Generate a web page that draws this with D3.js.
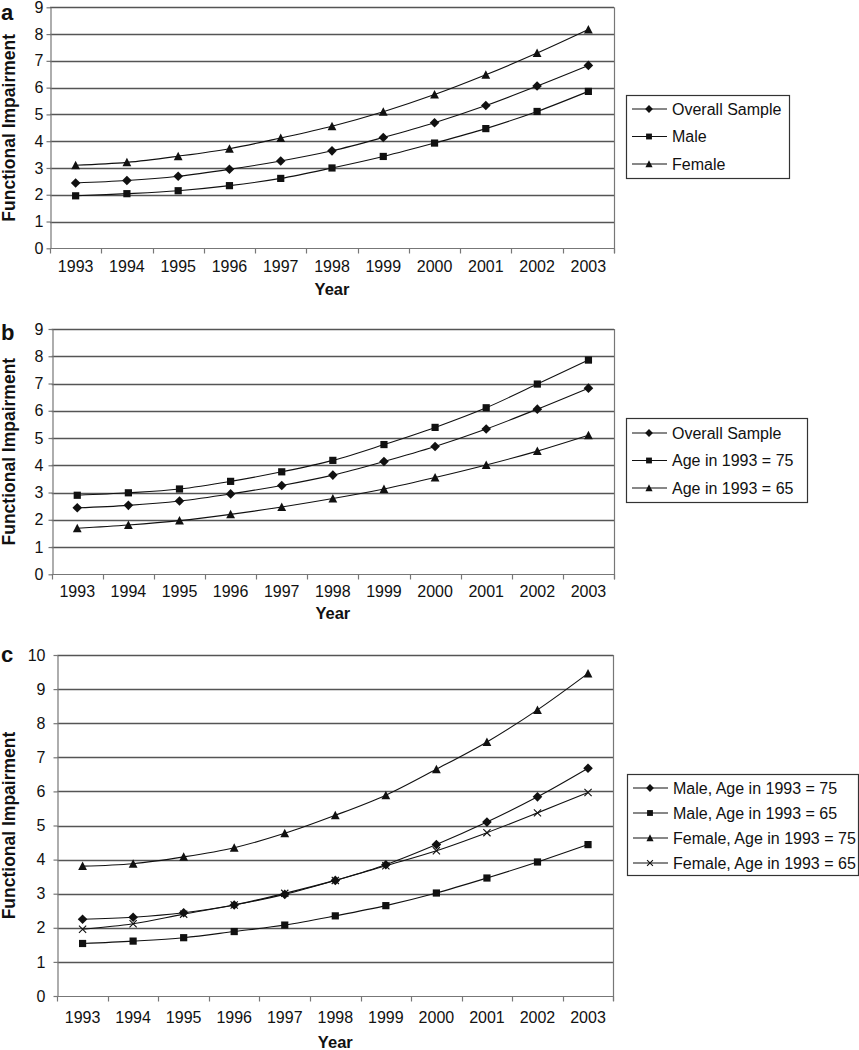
<!DOCTYPE html>
<html>
<head>
<meta charset="utf-8">
<script src="https://cdn.jsdelivr.net/npm/d3@7"></script>
<style>
  body { margin: 0; background: #fff; }
  svg { display: block; font-family: "Liberation Sans", Arial, sans-serif; }
</style>
</head>
<body>
<svg id="chart" width="859" height="1050"></svg>
<script>
// ---------- DATA ----------
const years = ["1993","1994","1995","1996","1997","1998","1999","2000","2001","2002","2003"];

// Panel a
const overallSample = [2.44, 2.53, 2.69, 2.95, 3.26, 3.64, 4.14, 4.69, 5.33, 6.06, 6.83];
const male          = [1.96, 2.04, 2.15, 2.34, 2.61, 3.00, 3.43, 3.93, 4.47, 5.11, 5.86];
const female        = [3.10, 3.21, 3.44, 3.72, 4.12, 4.56, 5.10, 5.74, 6.48, 7.29, 8.17];

// Panel b
const age75 = [2.90, 2.99, 3.13, 3.41, 3.76, 4.18, 4.76, 5.39, 6.11, 6.98, 7.86];
const age65 = [1.69, 1.81, 1.97, 2.20, 2.47, 2.78, 3.13, 3.55, 4.01, 4.52, 5.10];

// Panel c
const maleAge75   = [2.25, 2.31, 2.44, 2.67, 2.98, 3.39, 3.85, 4.44, 5.10, 5.84, 6.68];
const maleAge65   = [1.54, 1.61, 1.71, 1.89, 2.08, 2.35, 2.65, 3.02, 3.46, 3.93, 4.44];
const femaleAge75 = [3.81, 3.88, 4.08, 4.35, 4.77, 5.30, 5.89, 6.65, 7.45, 8.39, 9.46];
const femaleAge65 = [1.96, 2.12, 2.40, 2.67, 3.01, 3.39, 3.82, 4.26, 4.79, 5.37, 5.97];

const yTicksAB = [0,1,2,3,4,5,6,7,8,9];
const yTicksC  = [0,1,2,3,4,5,6,7,8,9,10];

const panels = [
  { label: "a", ymax: 9, yTicks: yTicksAB,
    box: {l: 50, r: 614, t: 7.3, b: 248.3}, tickLabelGap: 7, xLabelY: 272, yearY: 295, labelY: 20,
    legend: {x: 626, y: 95, w: 163, h: 83, row0: 14, rowH: 27.5},
    series: [
      {name: "Overall Sample", values: overallSample, marker: "diamond"},
      {name: "Male", values: male, marker: "square"},
      {name: "Female", values: female, marker: "triangle"} ] },
  { label: "b", ymax: 9, yTicks: yTicksAB,
    box: {l: 51.7, r: 614, t: 329, b: 574.3}, tickLabelGap: 9, xLabelY: 597, yearY: 619, labelY: 340,
    legend: {x: 626, y: 418, w: 181, h: 84, row0: 15, rowH: 27.5},
    series: [
      {name: "Overall Sample", values: overallSample, marker: "diamond"},
      {name: "Age in 1993 = 75", values: age75, marker: "square"},
      {name: "Age in 1993 = 65", values: age65, marker: "triangle"} ] },
  { label: "c", ymax: 10, yTicks: yTicksC,
    box: {l: 57.3, r: 613.3, t: 655, b: 996}, tickLabelGap: 12, xLabelY: 1023, yearY: 1048, labelY: 662,
    legend: {x: 627, y: 774, w: 231, h: 101, row0: 14, rowH: 25},
    series: [
      {name: "Male, Age in 1993 = 75", values: maleAge75, marker: "diamond"},
      {name: "Male, Age in 1993 = 65", values: maleAge65, marker: "square"},
      {name: "Female, Age in 1993 = 75", values: femaleAge75, marker: "triangle"},
      {name: "Female, Age in 1993 = 65", values: femaleAge65, marker: "x"} ] }
];

// ---------- MARKERS ----------
function markerPath(type, s) {
  const p = d3.path();
  if (type === "diamond") {
    const r = s * 0.6;
    p.moveTo(0, -r); p.lineTo(r, 0); p.lineTo(0, r); p.lineTo(-r, 0); p.closePath();
  } else if (type === "square") {
    const h = s * 0.45;
    p.rect(-h, -h, 2 * h, 2 * h);
  } else if (type === "triangle") {
    const w = s * 0.55, h = s * 0.5;
    p.moveTo(0, -h - 0.5); p.lineTo(w, h); p.lineTo(-w, h); p.closePath();
  } else if (type === "x") {
    const h = s * 0.45;
    p.moveTo(-h, -h); p.lineTo(h, h); p.moveTo(h, -h); p.lineTo(-h, h);
  }
  return p.toString();
}
function drawMarker(g, type, s) {
  const path = g.append("path").attr("d", markerPath(type, s));
  if (type === "x") path.attr("fill", "none").attr("stroke", "#111").attr("stroke-width", 1.1);
  else path.attr("fill", "#111").attr("stroke", "none");
}

// ---------- DRAW ----------
const svg = d3.select("#chart");
const gridColor = "#555";

panels.forEach(P => {
  const g = svg.append("g");
  const x = d3.scaleBand().domain(years).range([P.box.l, P.box.r]);
  const y = d3.scaleLinear().domain([0, P.ymax]).range([P.box.b, P.box.t]);

  // gridlines
  g.selectAll("line.grid").data(P.yTicks.filter(t => t > 0)).join("line")
    .attr("x1", P.box.l).attr("x2", P.box.r)
    .attr("y1", d => Math.round(y(d)) + 0.5).attr("y2", d => Math.round(y(d)) + 0.5)
    .attr("stroke", gridColor).attr("stroke-width", 1.3);

  // right border
  g.append("line").attr("x1", Math.round(P.box.r) + 0.5).attr("x2", Math.round(P.box.r) + 0.5)
    .attr("y1", y(P.ymax)).attr("y2", y(0) + 5).attr("stroke", "#777").attr("stroke-width", 1.2);

  // y axis
  const yAxis = d3.axisLeft(y).tickValues(P.yTicks).tickSize(4).tickPadding(P.tickLabelGap - 4).tickSizeOuter(0);
  const ya = g.append("g").attr("transform", `translate(${Math.round(P.box.l) + 0.5},0)`).call(yAxis);
  ya.select(".domain").attr("stroke", "#777").attr("stroke-width", 1.2);
  ya.selectAll(".tick line").attr("stroke", "#777").attr("stroke-width", 1.2);
  ya.selectAll(".tick text").attr("font-size", 16).attr("fill", "#111")
    .attr("font-family", '"Liberation Sans", Arial, sans-serif');

  // x axis (ticks on band boundaries)
  const xa = g.append("g").attr("transform", `translate(0,${Math.round(y(0)) + 0.5})`);
  xa.append("line").attr("x1", P.box.l).attr("x2", P.box.r).attr("stroke", "#777").attr("stroke-width", 1.2);
  const bounds = years.map(d => x(d)).concat([x(years[years.length - 1]) + x.bandwidth()]);
  xa.selectAll("line.tk").data(bounds).join("line")
    .attr("x1", d => Math.round(d) + 0.5).attr("x2", d => Math.round(d) + 0.5)
    .attr("y1", 0).attr("y2", 5).attr("stroke", "#777").attr("stroke-width", 1.2);
  g.selectAll("text.xl").data(years).join("text")
    .attr("x", d => x(d) + x.bandwidth() / 2).attr("y", P.xLabelY)
    .attr("text-anchor", "middle").attr("font-size", 16).attr("fill", "#111").text(d => d);

  // axis titles
  g.append("text").attr("x", (P.box.l + P.box.r) / 2).attr("y", P.yearY)
    .attr("text-anchor", "middle").attr("font-size", 16.5).attr("font-weight", "bold").attr("fill", "#111").text("Year");
  g.append("text").attr("transform", `translate(15,${(P.box.t + P.box.b) / 2}) rotate(-90)`)
    .attr("text-anchor", "middle").attr("font-size", 17.5).attr("font-weight", "bold").attr("fill", "#111")
    .text("Functional Impairment");

  // panel label
  g.append("text").attr("x", 1).attr("y", P.labelY).attr("font-size", 22).attr("font-weight", "bold")
    .attr("fill", "#111").text(P.label);

  // series
  const line = d3.line().x((d, i) => x(years[i]) + x.bandwidth() / 2).y(d => y(d))
    .curve(d3.curveCatmullRom.alpha(0.5));
  P.series.forEach(s => {
    g.append("path").attr("d", line(s.values)).attr("fill", "none").attr("stroke", "#111").attr("stroke-width", 1.1);
    s.values.forEach((v, i) => {
      const mg = g.append("g").attr("transform", `translate(${x(years[i]) + x.bandwidth() / 2},${y(v)})`);
      drawMarker(mg, s.marker, 8);
    });
  });

  // legend
  const L = P.legend;
  const lg = g.append("g").attr("transform", `translate(${L.x},${L.y})`);
  lg.append("rect").attr("x", 0.5).attr("y", 0.5).attr("width", L.w).attr("height", L.h)
    .attr("fill", "#fff").attr("stroke", "#333").attr("stroke-width", 1.2);
  P.series.forEach((s, i) => {
    const ry = L.row0 + i * L.rowH;
    const row = lg.append("g").attr("transform", `translate(0,${ry})`);
    row.append("line").attr("x1", 6).attr("x2", 41).attr("y1", 0).attr("y2", 0).attr("stroke", "#111").attr("stroke-width", 1.1);
    const mg = row.append("g").attr("transform", "translate(23,0)");
    drawMarker(mg, s.marker, 6.5);
    row.append("text").attr("x", 46).attr("y", 0).attr("dy", "0.36em").attr("font-size", 16)
      .attr("fill", "#111").text(s.name);
  });
});
</script>
</body>
</html>
